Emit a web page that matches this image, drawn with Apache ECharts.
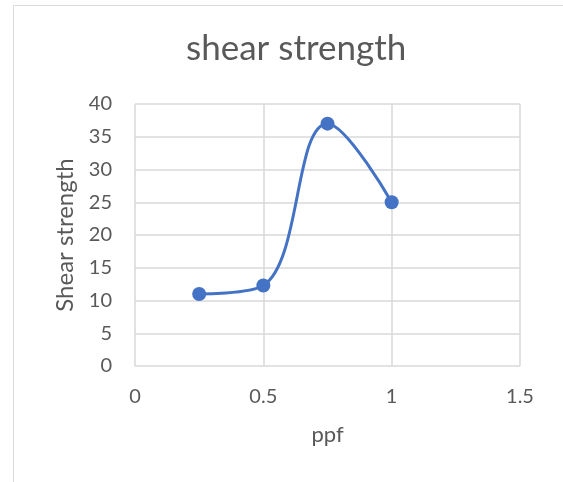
<!DOCTYPE html>
<html><head><meta charset="utf-8">
<script src="https://cdn.jsdelivr.net/npm/echarts@6/dist/echarts.min.js"></script>
<style>html,body{margin:0;padding:0;background:#fff}#c{width:563px;height:482px}</style>
</head><body><div id="c"></div>
<script>
const titleText = 'shear strength';
const xName = 'ppf';
const yName = 'Shear strength';
const ppf = [0.25, 0.5, 0.75, 1];
const shear = [11, 12.3, 37, 25];
const font = 'Lato, "Open Sans", sans-serif';
const chart = echarts.init(document.getElementById('c'));
chart.setOption({
  animation: false,
  graphic: [{type:'rect', shape:{x:13.5,y:5.5,width:600,height:600}, style:{fill:'none', stroke:'#d9d9d9', lineWidth:1}, z:-1}],
  title: {text: titleText, left: 181, top: 26, textStyle:{fontFamily:font, fontWeight:'normal', fontSize:35, color:'#595959'}},
  grid: {left:135, right:43, top:104, bottom:116},
  xAxis: {type:'value', min:0, max:1.5, interval:0.5, name:xName, nameLocation:'middle', nameGap:58,
    nameTextStyle:{fontFamily:font, fontSize:22, color:'#595959'},
    axisLine:{show:false}, axisTick:{show:false},
    axisLabel:{fontFamily:font, fontSize:20, color:'#595959', margin:21},
    splitLine:{show:true, lineStyle:{color:'#d9d9d9', width:1.5}}},
  yAxis: {type:'value', min:0, max:40, interval:5, name:yName, nameLocation:'middle', nameGap:58,
    nameTextStyle:{fontFamily:font, fontSize:24, color:'#595959'},
    axisLine:{show:false}, axisTick:{show:false},
    axisLabel:{fontFamily:font, fontSize:20, color:'#595959', margin:23},
    splitLine:{show:true, lineStyle:{color:'#d9d9d9', width:1.5}}},
  series: [{type:'line', data: ppf.map((x,i)=>[x, shear[i]]), smooth:0.4,
    symbol:'circle', symbolSize:14, lineStyle:{color:'#4472c4', width:3}, itemStyle:{color:'#4472c4'}}]
});
</script></body></html>
